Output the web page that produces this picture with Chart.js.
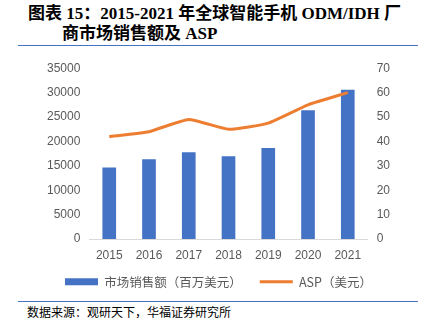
<!DOCTYPE html>
<html>
<head>
<meta charset="utf-8">
<script src="https://cdn.jsdelivr.net/npm/chart.js@4.4.0/dist/chart.umd.min.js"></script>
<style>
  body { margin: 0; width: 426px; height: 325px; background: #fff; position: relative; overflow: hidden; }
  .title { position: absolute; left: 28px; top: 4px; font: bold 17px "Liberation Serif", "Noto Sans CJK SC", serif; color: #000; line-height: 20px; }
  .title .l2 { padding-left: 34px; }
  .rule { position: absolute; left: 18px; width: 400px; height: 1px; background: #4472C4; }
  .source { position: absolute; left: 27px; top: 303px; font: 12px "Noto Sans CJK SC", sans-serif; color: #000; }
  #wrap { position: absolute; left: 0; top: 52px; width: 426px; height: 246px; }
</style>
</head>
<body>
<div class="title">图表 15：2015-2021 年全球智能手机 ODM/IDH 厂<br><span class="l2">商市场销售额及 ASP</span></div>
<div class="rule" style="top:45px"></div>
<div id="wrap"><canvas id="chart"></canvas></div>
<div class="rule" style="top:301px"></div>
<div class="source">数据来源：观研天下，华福证券研究所</div>
<script>
const years = ['2015', '2016', '2017', '2018', '2019', '2020', '2021'];
const sales = [14600, 16300, 17700, 16900, 18600, 26300, 30500];   // 市场销售额（百万美元）
const asp = [42, 44, 49, 45, 47.5, 55, 60];                          // ASP（美元）

const grey = '#595959';
const blue = '#4472C4';
const orange = '#ED7D31';
const tickFont = { size: 12, family: '"Liberation Sans", sans-serif' };

const ctx = document.getElementById('chart');

new Chart(ctx, {
  type: 'bar',
  data: {
    labels: years,
    datasets: [
      {
        type: 'line',
        label: 'ASP（美元）',
        data: asp,
        yAxisID: 'y1',
        borderColor: orange,
        borderWidth: 3,
        pointRadius: 0,
        tension: 0.15,
        order: 0
      },
      {
        label: '市场销售额（百万美元）',
        data: sales,
        yAxisID: 'y',
        backgroundColor: blue,
        barThickness: 13,
        order: 1
      }
    ]
  },
  options: {
    responsive: true,
    maintainAspectRatio: false,
    animation: false,
    layout: { padding: { left: 38, right: 27, top: 8, bottom: 0 } },
    plugins: {
      tooltip: { enabled: false },
      legend: {
        position: 'bottom',
        labels: {
          color: grey,
          font: { size: 12.5, family: '"Noto Sans CJK SC", "Liberation Sans", sans-serif' },
          usePointStyle: true,
          pointStyleWidth: 33,
          boxHeight: 7,
          padding: 4,
          generateLabels: chart => [
            { text: '市场销售额（百万美元）     ', fillStyle: blue, strokeStyle: blue, lineWidth: 0, pointStyle: 'rect', datasetIndex: 1, fontColor: grey },
            { text: 'ASP（美元）', fillStyle: orange, strokeStyle: orange, lineWidth: 3, pointStyle: 'line', datasetIndex: 0, fontColor: grey }
          ]
        }
      }
    },
    scales: {
      x: {
        grid: { display: false, drawTicks: false },
        border: { color: '#D9D9D9', width: 1 },
        ticks: { color: grey, font: tickFont, padding: 9 }
      },
      y: {
        position: 'left',
        min: 0, max: 35000,
        grid: { display: false, drawTicks: false },
        border: { display: false },
        ticks: { stepSize: 5000, color: grey, padding: 9, font: tickFont, callback: v => String(v) }
      },
      y1: {
        position: 'right',
        min: 0, max: 70,
        grid: { display: false, drawTicks: false },
        border: { display: false },
        ticks: { stepSize: 10, color: grey, padding: 9, font: tickFont, callback: v => String(v) }
      }
    }
  }
});
</script>
</body>
</html>
